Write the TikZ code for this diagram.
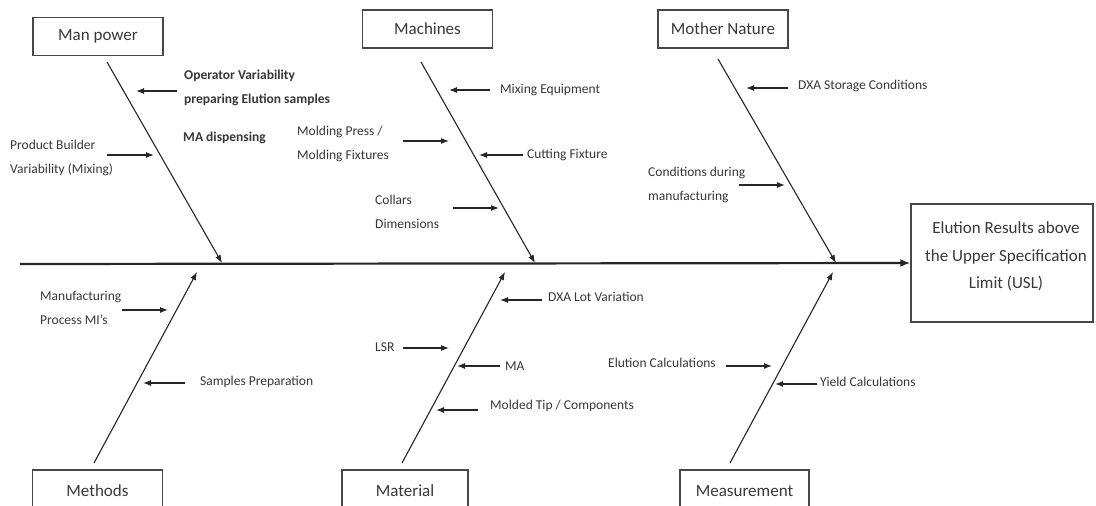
\documentclass[tikz,border=0pt]{standalone}
\usepackage{fontspec}
\setmainfont{Carlito}
\usetikzlibrary{arrows.meta}
\definecolor{txt}{HTML}{383838}
\definecolor{ln}{HTML}{262626}
\begin{document}
\begin{tikzpicture}[x=1pt,y=-1pt,
  catbox/.style={draw=ln!85, line width=1.3pt, minimum width=130pt, minimum height=38pt, inner sep=0pt,
     font=\fontsize{17}{20}\selectfont, text=txt},
  effbox/.style={draw=ln!85, line width=1.3pt, minimum width=182pt, minimum height=118pt, inner sep=0pt,
     text=txt},
  lbl/.style={font=\fontsize{13.5}{24}\selectfont, text=txt, inner sep=0pt, align=left},
  blbl/.style={lbl, font=\fontsize{13.5}{24}\selectfont\bfseries},
  bone/.style={draw=ln, line width=1.1pt, -{Latex[length=8pt,width=6pt]}},
  sub/.style={draw=ln, line width=1.1pt, -{Latex[length=8pt,width=6pt]}},
  spine/.style={draw=ln, line width=2.2pt, -{Latex[length=10pt,width=8pt]}}]
\useasboundingbox (0,0) rectangle (1096,506);
\clip (0,0) rectangle (1096,506);
\fill[white] (0,0) rectangle (1096,506);

% category boxes
\node[catbox] (mp) at (98,36.5) {Man power};
\node[catbox] (mc) at (427.5,29) {Machines};
\node[catbox] (mn) at (723,29) {Mother Nature};
\node[catbox, minimum height=44pt] (me) at (97.5,492) {\raisebox{2pt}{Methods}};
\node[catbox, minimum width=126pt, minimum height=44pt] (ma) at (405,492) {\raisebox{2pt}{Material}};
\node[catbox, minimum width=129pt, minimum height=44pt] (ms) at (744.5,492) {\raisebox{2pt}{Measurement}};

% effect
\node[effbox] (eff) at (1002,263) {\raisebox{4pt}[0pt][0pt]{\parbox{180pt}{\centering\fontsize{17}{27.5}\selectfont
  \hspace*{8pt}Elution Results above\\\hspace*{8pt}the Upper Specification\\\hspace*{8pt}Limit (USL)}}};

% spine
\coordinate (spS) at (20,264);
\draw[spine] (spS) -- (eff.west);

% bones
\coordinate (mpT) at (107,62);  \coordinate (mpH) at (222,263);
\coordinate (mcT) at (421,62);  \coordinate (mcH) at (535,263);
\coordinate (mnT) at (718,59);  \coordinate (mnH) at (836,263);
\coordinate (meT) at (94,463);  \coordinate (meH) at (197,272);
\coordinate (maT) at (402,463); \coordinate (maH) at (505,272);
\coordinate (msT) at (730,463); \coordinate (msH) at (833,272);
\draw[bone] (mpT) -- (mpH);
\draw[bone] (mcT) -- (mcH);
\draw[bone] (mnT) -- (mnH);
\draw[bone] (meT) -- (meH);
\draw[bone] (maT) -- (maH);
\draw[bone] (msT) -- (msH);

% Man power causes
\node[blbl, anchor=west] (op) at (184,88) {Operator Variability\\preparing Elution samples};
\coordinate (opS) at (177,91); \coordinate (opE) at (136,91);
\draw[sub] (opS) -- (opE);
\node[blbl, anchor=west] (mad) at (183,138) {MA dispensing};
\node[lbl, anchor=west] (pb) at (10,158) {Product Builder\\Variability (Mixing)};
\coordinate (pbS) at (107,155); \coordinate (pbE) at (154,155);
\draw[sub] (pbS) -- (pbE);

% Machines causes
\node[lbl, anchor=west] (mix) at (500,90) {Mixing Equipment};
\coordinate (mixS) at (490,90); \coordinate (mixE) at (449,90);
\draw[sub] (mixS) -- (mixE);
\node[lbl, anchor=west] (mold) at (297,144) {Molding Press /\\Molding Fixtures};
\coordinate (moldS) at (403,141); \coordinate (moldE) at (449,141);
\draw[sub] (moldS) -- (moldE);
\node[lbl, anchor=west] (cut) at (527,155) {Cutting Fixture};
\coordinate (cutS) at (523,155); \coordinate (cutE) at (479,155);
\draw[sub] (cutS) -- (cutE);
\node[lbl, anchor=west] (col) at (375,212) {Collars\\Dimensions};
\coordinate (colS) at (453,208); \coordinate (colE) at (499,208);
\draw[sub] (colS) -- (colE);

% Mother Nature causes
\node[lbl, anchor=west] (dxs) at (798,86) {DXA Storage Conditions};
\coordinate (dxsS) at (788,88); \coordinate (dxsE) at (746,88);
\draw[sub] (dxsS) -- (dxsE);
\node[lbl, anchor=west] (cdm) at (648,185) {Conditions during\\manufacturing};
\coordinate (cdmS) at (739,185); \coordinate (cdmE) at (785,185);
\draw[sub] (cdmS) -- (cdmE);

% Methods causes
\node[lbl, anchor=west] (mpi) at (40,308) {Manufacturing\\Process MI's};
\coordinate (mpiS) at (122,310); \coordinate (mpiE) at (168,310);
\draw[sub] (mpiS) -- (mpiE);
\node[lbl, anchor=west] (spp) at (200,382) {Samples Preparation};
\coordinate (sppS) at (185,383); \coordinate (sppE) at (143,383);
\draw[sub] (sppS) -- (sppE);

% Material causes
\node[lbl, anchor=west] (dxl) at (548,297) {DXA Lot Variation};
\coordinate (dxlS) at (542,300); \coordinate (dxlE) at (500,300);
\draw[sub] (dxlS) -- (dxlE);
\node[lbl, anchor=west] (lsr) at (375,347) {LSR};
\coordinate (lsrS) at (403,348); \coordinate (lsrE) at (449,348);
\draw[sub] (lsrS) -- (lsrE);
\node[lbl, anchor=west] (mam) at (505,366) {MA};
\coordinate (mamS) at (500,366); \coordinate (mamE) at (457,366);
\draw[sub] (mamS) -- (mamE);
\node[lbl, anchor=west] (mtc) at (490,406) {Molded Tip / Components};
\coordinate (mtcS) at (478,410); \coordinate (mtcE) at (436,410);
\draw[sub] (mtcS) -- (mtcE);

% Measurement causes
\node[lbl, anchor=west] (elc) at (608,363) {Elution Calculations};
\coordinate (elcS) at (726,366); \coordinate (elcE) at (772,366);
\draw[sub] (elcS) -- (elcE);
\node[lbl, anchor=west] (ylc) at (820,382) {Yield Calculations};
\coordinate (ylcS) at (817,384); \coordinate (ylcE) at (775,384);
\draw[sub] (ylcS) -- (ylcE);
\end{tikzpicture}
\end{document}
